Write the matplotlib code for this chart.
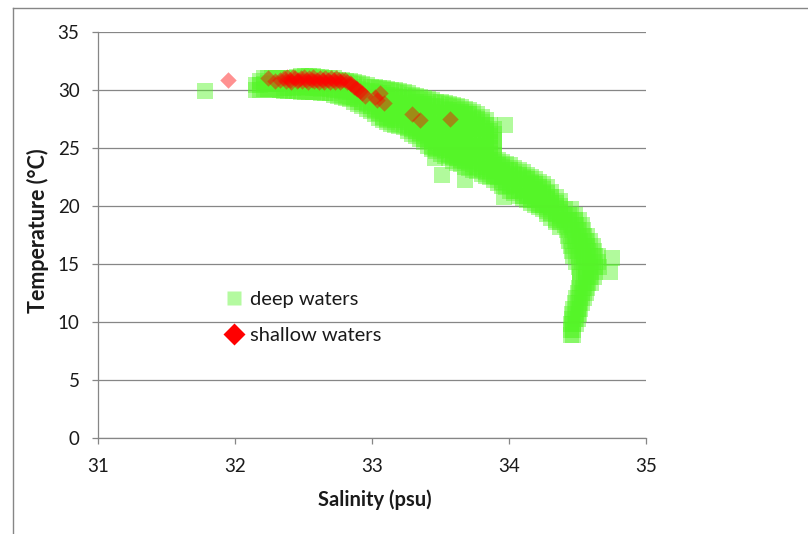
import matplotlib
matplotlib.use("Agg")
import matplotlib.pyplot as plt
from matplotlib.lines import Line2D

plt.rcParams["font.family"] = ["Lato", "DejaVu Sans"]

# deep waters, upper band read column by column: (salinity, [temperatures])
deep_upper_band = [
    (32.15, [30.4, 30.0]),
    (32.18, [30.8, 30.4, 30.0]),
    (32.21, [31.0, 30.55, 30.1]),
    (32.24, [31.0, 30.6, 30.1]),
    (32.27, [31.0, 30.5, 30.0]),
    (32.30, [31.0, 30.5, 30.0]),
    (32.33, [31.0, 30.5, 30.0]),
    (32.36, [31.0, 30.6, 30.2, 29.9]),
    (32.39, [31.0, 30.6, 30.2, 29.9]),
    (32.42, [31.0, 30.6, 30.2, 29.9]),
    (32.45, [31.1, 30.7, 30.3, 29.9]),
    (32.48, [31.2, 30.7, 30.3, 29.8]),
    (32.51, [31.2, 30.7, 30.2, 29.8]),
    (32.54, [31.2, 30.7, 30.3, 29.8]),
    (32.57, [31.2, 30.7, 30.2, 29.8]),
    (32.60, [31.1, 30.7, 30.2, 29.8]),
    (32.63, [31.1, 30.6, 30.1, 29.7]),
    (32.66, [31.0, 30.6, 30.2, 29.7]),
    (32.69, [31.0, 30.6, 30.1, 29.7]),
    (32.72, [31.0, 30.5, 30.0, 29.6]),
    (32.75, [30.9, 30.4, 30.0, 29.5]),
    (32.78, [30.9, 30.4, 29.9, 29.4]),
    (32.81, [30.8, 30.3, 29.8, 29.3]),
    (32.84, [30.8, 30.3, 29.8, 29.2]),
    (32.87, [30.7, 30.3, 29.8, 29.4, 29.0]),
    (32.90, [30.6, 30.1, 29.6, 29.2, 28.8]),
    (32.93, [30.5, 30.0, 29.5, 29.0, 28.6]),
    (32.96, [30.4, 29.9, 29.4, 28.9, 28.4]),
    (32.99, [30.3, 29.9, 29.5, 29.0, 28.6, 28.2]),
    (33.02, [30.3, 29.8, 29.3, 28.8, 28.3, 27.9]),
    (33.05, [30.2, 29.7, 29.3, 28.9, 28.5, 28.0, 27.6]),
    (33.08, [30.2, 29.7, 29.2, 28.7, 28.2, 27.7, 27.4]),
    (33.11, [30.1, 29.6, 29.2, 28.8, 28.3, 27.9, 27.5, 27.2]),
    (33.14, [30.0, 29.6, 29.1, 28.6, 28.1, 27.6, 27.1]),
    (33.17, [30.0, 29.5, 29.1, 28.7, 28.2, 27.8, 27.4, 27.0]),
    (33.20, [29.9, 29.4, 28.9, 28.4, 27.9, 27.4, 26.9]),
    (33.23, [29.8, 29.4, 28.9, 28.5, 28.1, 27.6, 27.2, 26.8]),
    (33.26, [29.7, 29.2, 28.7, 28.2, 27.7, 27.2, 26.7, 26.5]),
    (33.29, [29.6, 29.2, 28.7, 28.3, 27.9, 27.5, 27.0, 26.6, 26.2]),
    (33.32, [29.5, 29.0, 28.5, 28.0, 27.5, 27.0, 26.5, 26.0]),
    (33.35, [29.4, 29.0, 28.5, 28.1, 27.6, 27.2, 26.7, 26.3, 25.8]),
    (33.38, [29.3, 28.8, 28.3, 27.8, 27.3, 26.8, 26.3, 25.8, 25.5]),
    (33.41, [29.2, 28.8, 28.3, 27.9, 27.4, 27.0, 26.5, 26.1, 25.6, 25.2]),
    (33.44, [29.1, 28.6, 28.1, 27.6, 27.1, 26.6, 26.1, 25.6, 25.1, 24.9]),
    (33.47, [29.0, 28.6, 28.1, 27.7, 27.2, 26.8, 26.3, 25.9, 25.4, 25.0, 24.7]),
    (33.50, [29.0, 28.5, 28.0, 27.5, 27.0, 26.5, 26.0, 25.5, 25.0, 24.5]),
    (33.53, [28.9, 28.4, 28.0, 27.5, 27.1, 26.6, 26.2, 25.7, 25.3, 24.8, 24.3]),
    (33.56, [28.8, 28.3, 27.8, 27.3, 26.8, 26.3, 25.8, 25.3, 24.8, 24.4, 24.1]),
    (33.59, [28.7, 28.3, 27.8, 27.4, 26.9, 26.5, 26.0, 25.6, 25.1, 24.7, 24.2, 23.9]),
    (33.62, [28.6, 28.1, 27.6, 27.1, 26.6, 26.1, 25.6, 25.1, 24.6, 24.1, 23.7]),
    (33.65, [28.5, 28.1, 27.6, 27.2, 26.7, 26.3, 25.8, 25.4, 24.9, 24.5, 24.0, 23.6]),
    (33.68, [28.4, 27.9, 27.4, 26.9, 26.4, 25.9, 25.4, 24.9, 24.4, 23.9, 23.4]),
    (33.71, [28.3, 27.9, 27.4, 27.0, 26.5, 26.1, 25.6, 25.2, 24.7, 24.3, 23.8, 23.3]),
    (33.74, [28.1, 27.6, 27.1, 26.6, 26.1, 25.6, 25.1, 24.6, 24.1, 23.6, 23.1]),
    (33.77, [27.9, 27.5, 27.0, 26.6, 26.1, 25.7, 25.2, 24.8, 24.3, 23.9, 23.4, 23.0]),
    (33.80, [27.7, 27.2, 26.7, 26.2, 25.7, 25.2, 24.7, 24.2, 23.7, 23.2, 22.8]),
    (33.83, [27.4, 27.0, 26.5, 26.1, 25.6, 25.2, 24.7, 24.3, 23.8, 23.4, 22.9, 22.6]),
    (33.86, [27.0, 26.5, 26.0, 25.5, 25.0, 24.5, 24.0, 23.5, 23.0, 22.5]),
    (33.89, [26.6, 26.2, 25.7, 25.3, 24.8, 24.4, 23.9, 23.5, 23.0, 22.6, 22.2]),
    (33.92, [24.0, 23.5, 23.0, 22.5, 22.0]),
    (33.95, [23.8, 23.4, 22.9, 22.5, 22.1, 21.7]),
    (33.98, [23.6, 23.1, 22.6, 22.1, 21.6]),
    (34.01, [23.5, 23.1, 22.6, 22.2, 21.7, 21.3]),
    (34.04, [23.3, 22.8, 22.3, 21.8, 21.3, 21.1]),
    (34.07, [23.1, 22.7, 22.2, 21.8, 21.3, 20.9]),
    (34.10, [22.9, 22.4, 21.9, 21.4, 20.9, 20.7]),
    (34.13, [22.7, 22.3, 21.8, 21.4, 20.9, 20.5]),
    (34.16, [22.5, 22.0, 21.5, 21.0, 20.5, 20.3]),
    (34.19, [22.3, 21.9, 21.4, 21.0, 20.5, 20.1]),
    (34.22, [22.1, 21.6, 21.1, 20.6, 20.1, 19.9]),
    (34.25, [21.9, 21.5, 21.0, 20.6, 20.1, 19.7]),
    (34.28, [21.6, 21.1, 20.6, 20.1, 19.6, 19.3]),
    (34.31, [21.2, 20.8, 20.3, 19.9, 19.4, 19.0]),
    (34.34, [20.8, 20.3, 19.8, 19.3, 18.8, 18.6]),
    (34.37, [20.4, 20.0, 19.5, 19.1, 18.6, 18.2]),
]

# deep waters, lower tail read row by row: (temperature, [salinities])
deep_tail_band = [
    (19.7, [34.41, 34.45]),
    (19.25, [34.40, 34.44, 34.48]),
    (18.8, [34.40, 34.44, 34.48, 34.51]),
    (18.35, [34.41, 34.45, 34.49, 34.53]),
    (17.9, [34.42, 34.46, 34.50, 34.54]),
    (17.45, [34.43, 34.47, 34.51, 34.55, 34.57]),
    (17.0, [34.44, 34.48, 34.52, 34.56, 34.59]),
    (16.55, [34.45, 34.49, 34.53, 34.57, 34.61]),
    (16.1, [34.46, 34.50, 34.54, 34.58, 34.62]),
    (15.65, [34.47, 34.51, 34.55, 34.59, 34.63, 34.65]),
    (15.2, [34.49, 34.53, 34.57, 34.61, 34.65]),
    (14.75, [34.51, 34.55, 34.59, 34.63, 34.66]),
    (14.3, [34.52, 34.56, 34.60, 34.63]),
    (13.85, [34.52, 34.56, 34.59, 34.62]),
    (13.4, [34.52, 34.55, 34.58, 34.60]),
    (12.95, [34.51, 34.54, 34.57]),
    (12.5, [34.50, 34.53, 34.56]),
    (12.05, [34.49, 34.52, 34.55]),
    (11.6, [34.48, 34.51, 34.53]),
    (11.15, [34.47, 34.50, 34.52]),
    (10.7, [34.46, 34.49, 34.51]),
    (10.25, [34.46, 34.48, 34.50]),
    (9.8, [34.45, 34.47, 34.49]),
    (9.35, [34.45, 34.47]),
    (8.9, [34.45, 34.47]),
]

deep_outlier_sal = [31.78, 33.97, 33.46, 33.51, 33.68, 33.96, 34.75, 34.74]
deep_outlier_temp = [29.9, 27.0, 24.1, 22.7, 22.2, 20.8, 15.5, 14.3]

shallow_sal = [31.95, 32.24, 32.29, 32.33,
               32.36, 32.37, 32.38, 32.40, 32.41, 32.42, 32.44, 32.45, 32.46,
               32.48, 32.49, 32.50, 32.52, 32.53, 32.54, 32.56, 32.57, 32.58,
               32.60, 32.61, 32.62, 32.64, 32.65, 32.66, 32.68, 32.69, 32.70,
               32.72, 32.73, 32.74, 32.76, 32.77, 32.78,
               32.80, 32.82, 32.84, 32.85, 32.87, 32.88, 32.89, 32.91, 32.93, 32.95,
               33.02, 33.04, 33.06, 33.09,
               33.29, 33.35, 33.57]
shallow_temp = [30.9, 31.0, 30.8, 30.9,
                31.0, 30.8, 31.1, 30.9, 30.7, 31.1, 31.0, 30.8, 30.9,
                31.0, 30.8, 31.1, 30.9, 30.7, 31.0, 30.9, 31.1, 30.8,
                30.9, 30.7, 31.0, 30.9, 30.7, 31.0, 30.9, 30.7, 31.0,
                30.9, 30.7, 31.0, 30.9, 30.7, 30.9,
                30.9, 30.7, 30.6, 30.5, 30.3, 30.2, 30.1, 29.9, 29.7, 29.5,
                29.4, 29.1, 29.7, 28.9,
                27.9, 27.4, 27.5]

x_ticks = [31, 32, 33, 34, 35]
y_ticks = [0, 5, 10, 15, 20, 25, 30, 35]
labels = ["deep waters", "shallow waters"]

GRID = "#868686"
TEXT = "#1a1a1a"
DEEP = "#55F528"
SHALLOW = "#FF0000"

deep_sal, deep_temp = [], []
for sal, temps in deep_upper_band:
    deep_sal += [sal] * len(temps)
    deep_temp += temps
for temp, sals in deep_tail_band:
    deep_sal += sals
    deep_temp += [temp] * len(sals)
deep_sal += deep_outlier_sal
deep_temp += deep_outlier_temp

fig = plt.figure(figsize=(8.08, 5.34), dpi=100)
ax = fig.add_axes([98 / 808, 96 / 534, 548 / 808, 406 / 534])

ax.scatter(deep_sal, deep_temp, marker="s", s=132, color=DEEP, alpha=0.46,
           linewidths=0, zorder=2)
ax.scatter(shallow_sal, shallow_temp, marker="D", s=70, color=SHALLOW, alpha=0.43,
           linewidths=0, zorder=3)

ax.set_xlim(31, 35)
ax.set_ylim(0, 35)
ax.set_xticks(x_ticks)
ax.set_yticks(y_ticks)
ax.yaxis.grid(True, color=GRID, lw=0.9)
ax.set_axisbelow(True)
for side in ("top", "right"):
    ax.spines[side].set_visible(False)
for side in ("left", "bottom"):
    ax.spines[side].set_color(GRID)
    ax.spines[side].set_linewidth(0.9)
ax.tick_params(axis="x", length=4.3, width=0.9, color=GRID, pad=10,
               labelsize=13.5, labelcolor=TEXT)
ax.tick_params(axis="y", length=4.3, width=0.9, color=GRID, pad=9,
               labelsize=13.5, labelcolor=TEXT)

fig.text(375 / 808, 1 - 500 / 534, "Salinity (psu)", ha="center", va="center",
         fontsize=14.5, fontweight="bold", color=TEXT)
fig.text(38 / 808, 1 - 231 / 534, "Temperature (°C)", ha="center", va="center",
         rotation=90, fontsize=15.5, fontweight="bold", color=TEXT)

handles = [
    Line2D([], [], ls="none", marker="s", ms=10, mfc=DEEP, mec="none", alpha=0.44),
    Line2D([], [], ls="none", marker="D", ms=11.5, mfc=SHALLOW, mec="none"),
]
ax.legend(handles, labels, loc="upper left",
          bbox_to_anchor=(224 / 808, 1 - 291 / 534), bbox_transform=fig.transFigure,
          frameon=False, handlelength=1.0, handletextpad=0.3, labelspacing=0.95,
          borderpad=0, borderaxespad=0, fontsize=14.5, labelcolor=TEXT)

# chart area border (only left and top edges are in the crop)
fig.add_artist(Line2D([13 / 808, 13 / 808], [0, 1 - 8 / 534], transform=fig.transFigure,
                      color=GRID, lw=1))
fig.add_artist(Line2D([13 / 808, 1], [1 - 8 / 534, 1 - 8 / 534], transform=fig.transFigure,
                      color=GRID, lw=1))

fig.savefig("out.png", dpi=100)
plt.close(fig)
